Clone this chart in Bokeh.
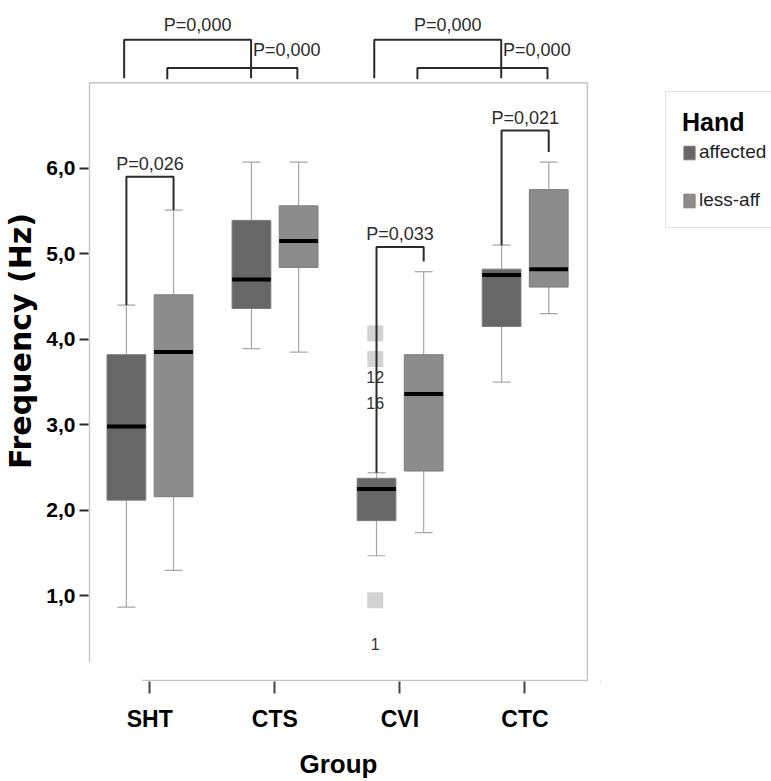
from bokeh.plotting import figure
from bokeh.layouts import row
from bokeh.models import (ColumnDataSource, FixedTicker, Range1d, Legend,
                          LegendItem)
from bokeh.core.properties import value
from bokeh.embed import file_html
from bokeh.resources import INLINE

# ---- data -------------------------------------------------------------
groups = ["SHT", "CTS", "CVI", "CTC"]

# affected hand: whisker low, Q1, median, Q3, whisker high (Hz)
aff_low = [0.87, 3.89, 1.47, 3.50]
aff_q1 = [2.12, 4.36, 1.88, 4.15]
aff_med = [2.98, 4.70, 2.25, 4.75]
aff_q3 = [3.82, 5.39, 2.375, 4.82]
aff_high = [4.40, 6.07, 2.44, 5.10]

# less-affected hand
less_low = [1.30, 3.85, 1.74, 4.30]
less_q1 = [2.16, 4.84, 2.46, 4.61]
less_med = [3.85, 5.15, 3.36, 4.82]
less_q3 = [4.52, 5.56, 3.82, 5.75]
less_high = [5.51, 6.07, 4.79, 6.07]

# outliers (CVI, affected hand) and their case numbers
outlier_group = "CVI"
outlier_values = [4.07, 3.77, 0.95]
outlier_ids = ["12", "16", "1"]

# within-group comparisons (affected vs less-affected)
within_groups = ["SHT", "CVI", "CTC"]
within_p = ["P=0,026", "P=0,033", "P=0,021"]

# between-group comparisons (same hand)
between_pairs = [("SHT", "CTS"), ("CVI", "CTC")]
between_p_aff = ["P=0,000", "P=0,000"]
between_p_less = ["P=0,000", "P=0,000"]

y_ticks = [1, 2, 3, 4, 5, 6]
hands = ["affected", "less-aff"]

# ---- styling ----------------------------------------------------------
FONT = "Liberation Sans"
AFF_COLOR = "#676767"
LESS_COLOR = "#8c8c8c"
BOX_LINE = "#7d7d7d"
AFF_OFF, LESS_OFF = -0.187, 0.19
BOX_W, CAP_W = 0.31, 0.143
FRAME = "#c4c4c4"
INK = "#2b2b2b"
WHISKER = "#a6a6a6"
BOTTOM_BORDER = 100

gx = {g: i + 1 for i, g in enumerate(groups)}

p = figure(width=600, height=781,
           x_range=Range1d(0.51, 4.508), y_range=Range1d(0.0, 7.96),
           output_backend="svg", toolbar_location=None,
           min_border_left=86, min_border_right=12,
           min_border_top=0, min_border_bottom=BOTTOM_BORDER)
p.outline_line_color = None
p.xgrid.visible = False
p.ygrid.visible = False
p.background_fill_color = "white"
p.border_fill_color = "white"

# axes
p.yaxis.ticker = FixedTicker(ticks=y_ticks)
p.yaxis.major_label_overrides = {t: f"{t:.1f}".replace(".", ",") for t in y_ticks}
p.yaxis.axis_line_color = None
p.yaxis.major_tick_out = 9
p.yaxis.major_tick_in = 0
p.yaxis.major_tick_line_width = 2
p.yaxis.major_tick_line_color = INK
p.yaxis.minor_tick_line_color = None
p.yaxis.major_label_text_font = FONT
p.yaxis.major_label_text_font_style = "bold"
p.yaxis.major_label_text_font_size = "21px"
p.yaxis.major_label_text_color = "black"
p.yaxis.major_label_standoff = 4
p.yaxis.axis_label = "Frequency (Hz)"
p.yaxis.axis_label_text_font = "DejaVu Sans"
p.yaxis.axis_label_text_font_style = "bold"
p.yaxis.axis_label_text_font_size = "30px"
p.yaxis.axis_label_text_color = "black"
p.yaxis.axis_label_standoff = 5

p.xaxis.ticker = FixedTicker(ticks=[gx[g] for g in groups])
p.xaxis.major_label_overrides = {gx[g]: g for g in groups}
p.xaxis.axis_line_color = None
p.xaxis.major_tick_out = 12
p.xaxis.major_tick_in = 0
p.xaxis.major_tick_line_width = 2
p.xaxis.major_tick_line_color = "#444444"
p.xaxis.minor_tick_line_color = None
p.xaxis.major_label_text_font = FONT
p.xaxis.major_label_text_font_style = "bold"
p.xaxis.major_label_text_font_size = "23px"
p.xaxis.major_label_text_color = "black"
p.xaxis.major_label_standoff = 12
p.xaxis.axis_label = "Group"
p.xaxis.axis_label_text_font = FONT
p.xaxis.axis_label_text_font_style = "bold"
p.xaxis.axis_label_text_font_size = "26px"
p.xaxis.axis_label_text_color = "black"
p.xaxis.axis_label_standoff = 14

# chart frame: offset left and bottom axis lines
p.segment(x0=[0.517, 0.517, 4.5, 0.94], y0=[7.0, 7.0, 7.0, 0.012],
          x1=[4.5, 0.517, 4.5, 4.5], y1=[7.0, 0.222, 0.012, 0.012],
          line_color=FRAME, line_width=1.5)


def draw_boxes(offset, low, q1, med, q3, high, color):
    x = [gx[g] + offset for g in groups]
    src = ColumnDataSource(dict(
        x=x, low=low, q1=q1, med=med, q3=q3, high=high,
        left=[v - BOX_W / 2 for v in x], right=[v + BOX_W / 2 for v in x],
        cl=[v - CAP_W / 2 for v in x], cr=[v + CAP_W / 2 for v in x]))
    p.segment(x0="x", y0="q3", x1="x", y1="high", source=src,
              line_color=WHISKER, line_width=1.2)
    p.segment(x0="x", y0="q1", x1="x", y1="low", source=src,
              line_color=WHISKER, line_width=1.2)
    p.segment(x0="cl", y0="high", x1="cr", y1="high", source=src,
              line_color=WHISKER, line_width=1.2)
    p.segment(x0="cl", y0="low", x1="cr", y1="low", source=src,
              line_color=WHISKER, line_width=1.2)
    p.vbar(x="x", width=BOX_W, bottom="q1", top="q3", source=src,
           fill_color=color, line_color=BOX_LINE, line_width=1)
    p.segment(x0="left", y0="med", x1="right", y1="med", source=src,
              line_color="black", line_width=4)


draw_boxes(AFF_OFF, aff_low, aff_q1, aff_med, aff_q3, aff_high, AFF_COLOR)
draw_boxes(LESS_OFF, less_low, less_q1, less_med, less_q3, less_high,
           LESS_COLOR)

# outliers with case labels
ox = [gx[outlier_group] + AFF_OFF - 0.01] * len(outlier_values)
p.scatter(x=ox, y=outlier_values, marker="square", size=16,
          fill_color="#d3d3d3", line_color=None)
p.text(x=ox, y=outlier_values, text=outlier_ids, y_offset=44,
       text_align="center", text_baseline="middle",
       text_font=value(FONT), text_font_size="16px", text_color="#333333")

# within-group brackets: top level and bottom of right leg
within_top = {"SHT": 5.90, "CVI": 5.08, "CTC": 6.44}
within_gap = {"SHT": 0.0, "CVI": 0.12, "CTC": 0.12}
bx, by, tx, ty = [], [], [], []
for g in within_groups:
    i = groups.index(g)
    xl, xr = gx[g] + AFF_OFF, gx[g] + LESS_OFF
    top = within_top[g]
    bx.append([xl, xl, xr, xr])
    by.append([aff_high[i], top, top, less_high[i] + within_gap[g]])
    tx.append((xl + xr) / 2)
    ty.append(top)
p.multi_line(xs=bx, ys=by, line_color=INK, line_width=2)
p.text(x=tx, y=ty, text=within_p, y_offset=-13, text_align="center",
       text_baseline="middle", text_font=value(FONT),
       text_font_size="18px", text_color=INK)

# between-group brackets above the frame
mx, my = [], []
l1x, l1y, l2x, l2y = [], [], [], []
for (ga, gb) in between_pairs:
    a1, b1 = gx[ga] - 0.205, gx[gb] - 0.19
    a2, b2 = gx[ga] + 0.14, gx[gb] + 0.18
    mx += [[a1, a1, b1, b1], [a2, a2, b2, b2]]
    my += [[7.05, 7.50, 7.50, 7.05], [7.04, 7.17, 7.17, 7.04]]
    l1x.append((a1 + b1) / 2 + 0.08)
    l1y.append(7.668)
    l2x.append(b1 + 0.015)
    l2y.append(7.376)
p.multi_line(xs=mx, ys=my, line_color=INK, line_width=2)
p.text(x=l1x, y=l1y, text=between_p_aff, text_align="center",
       text_baseline="middle", text_font=value(FONT),
       text_font_size="18px", text_color=INK)
p.text(x=l2x, y=l2y, text=between_p_less, text_align="left",
       text_baseline="middle", text_font=value(FONT),
       text_font_size="18px", text_color=INK)

# ---- legend panel -----------------------------------------------------
q = figure(width=171, height=781, output_backend="svg", toolbar_location=None,
           x_axis_location=None, y_axis_location=None,
           x_range=Range1d(0, 1), y_range=Range1d(0, 1),
           min_border_left=0, min_border_top=0,
           min_border_right=0, min_border_bottom=BOTTOM_BORDER)
q.outline_line_color = None
q.xgrid.visible = False
q.ygrid.visible = False
q.border_fill_color = "white"
q.background_fill_color = "white"

# swatch renderers sit outside the visible range; only their legend shows
swatches = []
for color in [AFF_COLOR, LESS_COLOR]:
    swatches.append(q.vbar(x=[-5], width=0.1, top=[-5], bottom=[-6],
                           fill_color=color, line_color=BOX_LINE,
                           line_width=1))

# location is the legend's lower-left corner, in pixels from the frame's
# lower-left corner
legend = Legend(items=[LegendItem(label=h, renderers=[r])
                       for h, r in zip(hands, swatches)],
                title="Hand", location=(65, 453), margin=0)
legend.title_text_font = FONT
legend.title_text_font_size = "25px"
legend.title_text_font_style = "bold"
legend.title_text_color = "black"
legend.title_standoff = 4
legend.label_text_font = FONT
legend.label_text_font_size = "19px"
legend.label_text_color = "#222222"
legend.label_standoff = 3
legend.glyph_width = 14
legend.glyph_height = 17
legend.spacing = 26
legend.padding = 16
legend.border_line_color = "#c8c8c8"
legend.border_line_width = 1.5
q.add_layout(legend)

open("out.html", "w").write(file_html(row(p, q), INLINE))
